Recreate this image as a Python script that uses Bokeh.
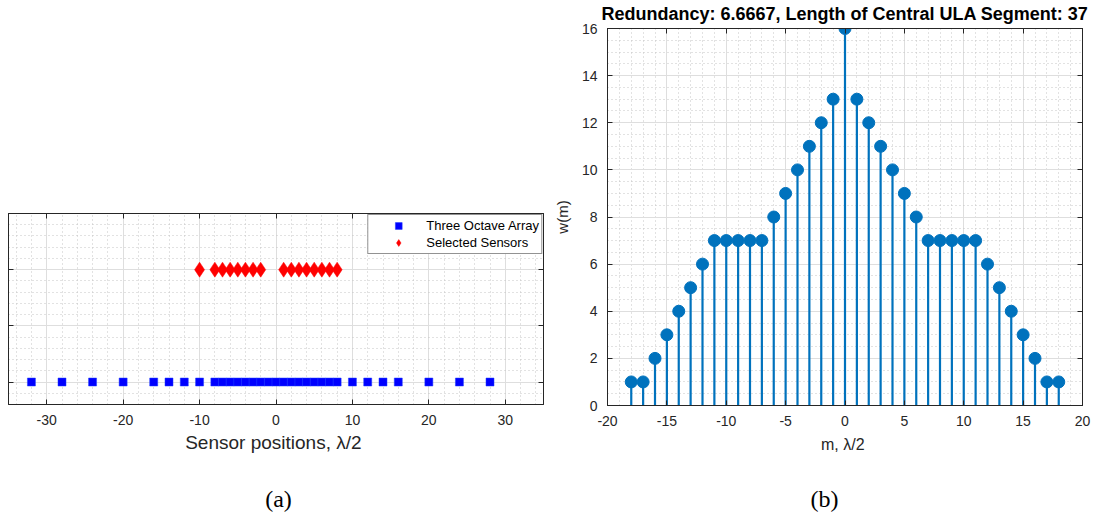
from bokeh.plotting import figure
from bokeh.layouts import row, column
from bokeh.models import (SingleIntervalTicker, LinearAxis, Range1d, Legend,
                          LegendItem, Label, ColumnDataSource, NumeralTickFormatter)
from bokeh.embed import file_html
from bokeh.resources import INLINE

# ---------------- data ----------------
three_octave_positions = [-32, -28, -24, -20, -16, -14, -12, -10,
                          -8, -7, -6, -5, -4, -3, -2, -1, 0, 1, 2, 3, 4, 5, 6, 7, 8,
                          10, 12, 14, 16, 20, 24, 28]
three_octave_row = [0] * len(three_octave_positions)
selected_positions = [-10, -8, -7, -6, -5, -4, -3, -2, 1, 2, 3, 4, 5, 6, 7, 8]
selected_row = [1] * len(selected_positions)

lag_m = list(range(-18, 19))
weight_w = [1, 1, 2, 3, 4, 5, 6, 7, 7, 7, 7, 7, 8, 9, 10, 11, 12, 13, 16,
            13, 12, 11, 10, 9, 8, 7, 7, 7, 7, 7, 6, 5, 4, 3, 2, 1, 1]
stem_base = [0] * len(lag_m)

title_b = "Redundancy: 6.6667, Length of Central ULA Segment: 37"
xlabel_a = "Sensor positions,  \u03bb/2"
xlabel_b = "m,  \u03bb/2"
ylabel_b = "w(m)"
caption_a = "(a)"
caption_b = "(b)"

FONT = "Liberation Sans"
AX = "#262626"
MAJOR_GRID = "#dedede"
MINOR_GRID = "#c4c4c4"


def blank_axis(ticker):
    return LinearAxis(ticker=ticker, major_label_text_font_size="1px",
                      major_label_text_color=None,
                      major_label_standoff=0, major_tick_in=5, major_tick_out=0,
                      minor_tick_line_color=None, axis_line_color=AX,
                      major_tick_line_color=AX)


def style(p, xt, yt, show_ylabels=True):
    bottom = p.below[0]
    left = p.left[0]
    bottom.ticker = xt
    left.ticker = yt
    for ax in (bottom, left):
        ax.formatter = NumeralTickFormatter(format="0.[0]")
        ax.axis_line_color = AX
        ax.major_tick_line_color = AX
        ax.major_tick_in = 5
        ax.major_tick_out = 0
        ax.minor_tick_line_color = None
        ax.major_label_text_font = FONT
        ax.major_label_text_font_size = "14px"
        ax.major_label_text_color = AX
        ax.major_label_standoff = 6
        ax.axis_label_text_font = FONT
        ax.axis_label_text_font_style = "normal"
        ax.axis_label_text_color = AX
        ax.axis_label_text_font_size = "16px"
    if not show_ylabels:
        left.major_label_text_font_size = "1px"
        left.major_label_text_color = None
        left.major_label_standoff = 0
    p.xgrid.ticker = xt
    p.ygrid.ticker = yt
    for g in (p.xgrid[0], p.ygrid[0]):
        g.grid_line_color = MAJOR_GRID
        g.grid_line_width = 1
        g.minor_grid_line_color = MINOR_GRID
        g.minor_grid_line_dash = "1 3"
        g.minor_grid_line_width = 1
    p.add_layout(blank_axis(yt), "right")
    p.add_layout(blank_axis(xt), "above")
    p.outline_line_color = AX
    p.outline_line_width = 1
    p.background_fill_color = "white"
    p.border_fill_color = "white"
    return bottom, left


def caption_fig(width, text, sx):
    c = figure(width=width, height=33, x_axis_type=None, y_axis_type=None,
               output_backend="svg", toolbar_location=None, frame_align=False,
               min_border=0, x_range=Range1d(0, 1), y_range=Range1d(0, 1))
    c.grid.visible = False
    c.outline_line_color = None
    c.add_layout(Label(x=sx, y=15, x_units="screen", y_units="screen", text=text,
                       text_align="center", text_baseline="middle",
                       text_font="Liberation Serif", text_font_size="24px",
                       text_color="#000000"))
    return c


# ---------------- (a) ----------------
pa = figure(width=550, height=480, x_range=Range1d(-35, 35), y_range=Range1d(-0.2, 1.5),
            output_backend="svg", toolbar_location=None, frame_align=False,
            min_border_left=8, min_border_right=7, min_border_top=213, min_border_bottom=76)
xa, ya = style(pa, SingleIntervalTicker(interval=10, num_minor_ticks=5),
               SingleIntervalTicker(interval=0.5, num_minor_ticks=5), show_ylabels=False)
xa.axis_label = xlabel_a
xa.axis_label_text_font_size = "19px"
xa.axis_label_standoff = 4

src_oct = ColumnDataSource(dict(x=three_octave_positions, y=three_octave_row))
src_sel = ColumnDataSource(dict(x=selected_positions, y=selected_row))
r_oct = pa.scatter("x", "y", source=src_oct, marker="square", size=8,
                   fill_color="#0000ff", line_color="#1f3fff", line_width=0.5)
r_sel = pa.scatter("x", "y", source=src_sel, marker="diamond", size=15,
                   fill_color="#ff0000", line_color="#ff0000", line_width=0.5)

legend = Legend(items=[LegendItem(label="Three Octave Array", renderers=[r_oct]),
                       LegendItem(label="Selected Sensors", renderers=[r_sel])],
                location="top_right", margin=1, padding=2, spacing=0,
                glyph_width=56, glyph_height=17, label_height=17, label_standoff=0,
                label_text_font=FONT, label_text_font_size="13px", label_text_color="#000000",
                border_line_color=AX, border_line_width=1, background_fill_alpha=1)
pa.add_layout(legend, "center")

# ---------------- (b) ----------------
pb = figure(width=543, height=480, x_range=Range1d(-20, 20), y_range=Range1d(0, 16),
            output_backend="svg", toolbar_location=None, frame_align=False,
            min_border_left=46, min_border_right=11, min_border_top=24, min_border_bottom=75)
xb, yb = style(pb, SingleIntervalTicker(interval=5, num_minor_ticks=5),
               SingleIntervalTicker(interval=2, num_minor_ticks=4))
pb.title.text = title_b
pb.title.text_font = FONT
pb.title.text_font_size = "18px"
pb.title.text_font_style = "bold"
pb.title.text_color = "#000000"
pb.title.align = "center"
pb.title.standoff = 2
xb.axis_label = xlabel_b
xb.axis_label_standoff = 7
yb.axis_label = ylabel_b
yb.axis_label_text_font_size = "15px"
yb.axis_label_standoff = 8

src_w = ColumnDataSource(dict(m=lag_m, w=weight_w, base=stem_base))
pb.segment(x0="m", y0="base", x1="m", y1="w", source=src_w,
           line_color="#0072bd", line_width=2.2)
pb.scatter("m", "w", source=src_w, marker="circle", size=12,
           fill_color="#0072bd", line_color="#0072bd")

cap_a = caption_fig(550, caption_a, 278)
cap_b = caption_fig(543, caption_b, 274)

layout = column(row(pa, pb), row(cap_a, cap_b))
open("out.html", "w").write(file_html(layout, INLINE))
